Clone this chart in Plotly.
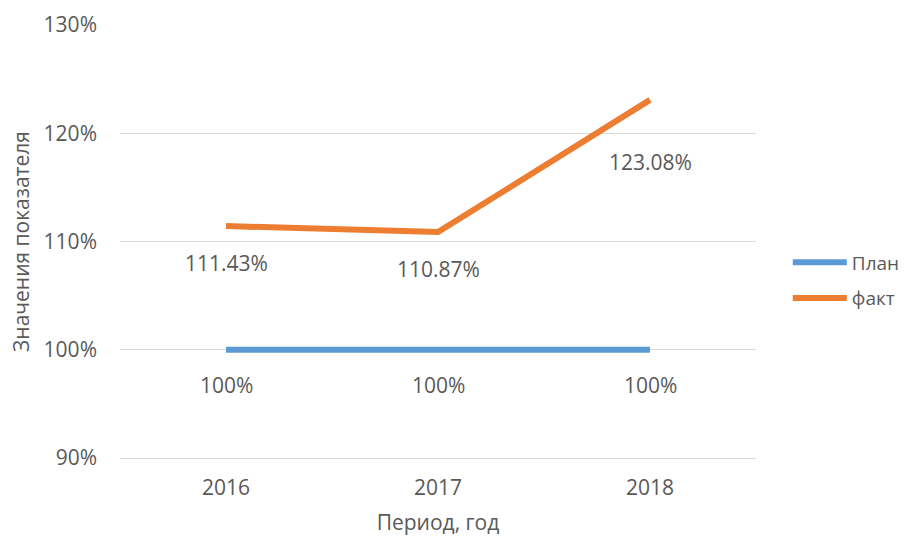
import plotly.graph_objects as go

years = ["2016", "2017", "2018"]
plan = [100, 100, 100]
fact = [111.43, 110.87, 123.08]
plan_labels = ["100%", "100%", "100%"]
fact_labels = ["111.43%", "110.87%", "123.08%"]
y_ticks = [90, 100, 110, 120, 130]
y_tick_text = ["90%", "100%", "110%", "120%", "130%"]

FONT = "Open Sans, sans-serif"
TXT = "#595959"
FS = 21
GRID = "#d9d9d9"

fig = go.Figure()
fig.add_trace(go.Scatter(x=years, y=plan, mode="lines", name="План", legendgroup="plan",
                         line=dict(color="#5B9BD5", width=6)))
fig.add_trace(go.Scatter(x=years, y=fact, mode="lines", name="факт", legendgroup="fact",
                         line=dict(color="#ED7D31", width=6)))

# value labels under each point (category axis -> position by index)
for i, (y, t) in enumerate(zip(plan, plan_labels)):
    fig.add_annotation(x=i, y=y, text=t, showarrow=False, yshift=-35,
                       font=dict(family=FONT, size=FS, color=TXT))
shifts = [-37, -37, -62]
for i, (y, t, s) in enumerate(zip(fact, fact_labels, shifts)):
    fig.add_annotation(x=i, y=y, text=t, showarrow=False, yshift=s,
                       font=dict(family=FONT, size=FS, color=TXT))

fig.update_layout(
    width=907, height=536,
    margin=dict(l=120, r=151, t=25, b=78, autoexpand=False),
    plot_bgcolor="white", paper_bgcolor="white",
    font=dict(family=FONT, size=FS, color=TXT),
    xaxis=dict(type="category", range=[-0.5, 2.5], showgrid=False,
               showline=True, linecolor=GRID, linewidth=1, ticks="",
               ticklabelstandoff=11, tickfont=dict(size=FS, color=TXT),
               title=dict(text="Период, год", font=dict(size=FS, color=TXT), standoff=18)),
    yaxis=dict(range=[90, 130], tickvals=y_ticks, ticktext=y_tick_text,
               showgrid=True, gridcolor=GRID, gridwidth=1, zeroline=False,
               showline=False, ticks="", ticklabelstandoff=22,
               tickfont=dict(size=FS, color=TXT),
               title=dict(text="Значения показателя", font=dict(size=FS, color=TXT), standoff=8)),
    legend=dict(x=1.05, y=0.41, xanchor="left", yanchor="middle",
                font=dict(size=19, color=TXT), itemwidth=54, tracegroupgap=8,
                bgcolor="rgba(0,0,0,0)"),
    showlegend=True,
)

fig.write_html("out.html")
